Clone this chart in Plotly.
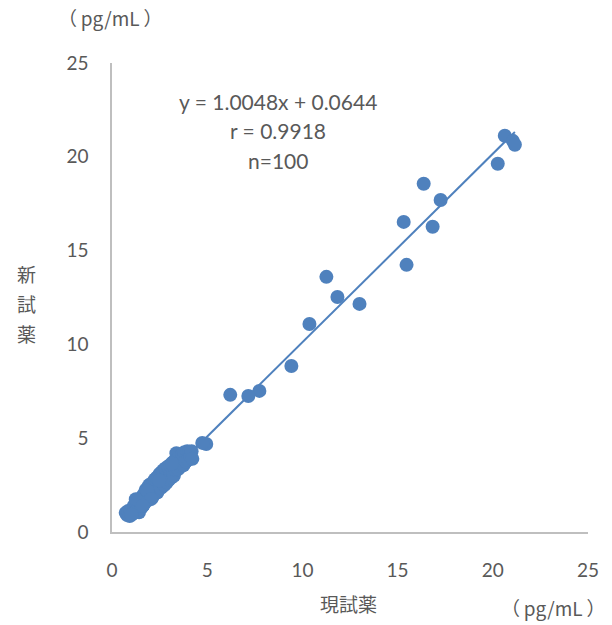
import plotly.graph_objects as go

# Upper (sparser) points: current reagent (x) vs new reagent (y), pg/mL
upper_x = [20.63, 21.05, 21.16, 20.26, 17.26, 16.37, 16.84, 15.32, 15.47, 11.26,
           11.84, 13.00, 10.37, 9.42, 7.74, 7.16, 6.21, 4.95, 4.74]
upper_y = [21.12, 20.85, 20.64, 19.63, 17.70, 18.56, 16.27, 16.53, 14.24, 13.60,
           12.53, 12.16, 11.09, 8.85, 7.52, 7.25, 7.31, 4.69, 4.75]

# Dense low-range cluster
cluster_x = [0.72, 0.80, 0.85, 0.93, 0.98, 1.05, 1.10, 1.15, 1.20, 1.28,
             1.32, 1.38, 1.42, 1.45, 1.50, 1.55, 1.60, 1.65, 1.70, 1.72,
             1.78, 1.82, 1.88, 1.90, 1.95, 2.00, 2.05, 2.08, 2.12, 2.18,
             2.22, 2.25, 2.30, 2.35, 2.38, 2.42, 2.45, 2.50, 2.55, 2.58,
             2.62, 2.65, 2.70, 2.75, 2.78, 2.82, 2.88, 2.92, 2.95, 3.00,
             3.05, 3.08, 3.12, 3.18, 3.22, 3.25, 3.30, 3.35, 3.38, 3.42,
             3.48, 3.52, 3.58, 3.62, 3.70, 3.75, 3.80, 3.88, 3.95, 4.00,
             4.05, 4.12, 4.18, 4.22, 1.25, 1.85, 2.48, 3.15, 2.05, 1.02, 1.62]
cluster_y = [1.02, 0.90, 1.12, 0.85, 1.08, 1.22, 0.98, 1.40, 1.10, 1.55,
             1.18, 1.70, 1.05, 1.62, 1.80, 1.30, 1.90, 1.45, 2.05, 1.55,
             2.25, 1.68, 2.35, 1.80, 2.50, 1.90, 2.55, 2.05, 1.85, 2.65,
             2.15, 2.80, 2.30, 2.90, 2.10, 2.95, 2.40, 3.10, 2.55, 2.35,
             3.20, 2.65, 3.30, 2.50, 2.85, 3.40, 2.65, 3.00, 3.50, 2.80,
             3.55, 3.05, 2.90, 3.70, 3.15, 3.00, 3.80, 3.30, 4.20, 3.85,
             3.35, 4.00, 3.50, 3.70, 4.15, 3.55, 4.25, 3.75, 4.30, 3.85,
             4.25, 4.05, 4.30, 3.90, 1.75, 2.20, 2.75, 3.65, 1.75, 0.92, 1.40]

# Regression stats
slope = 1.0048
intercept = 0.0644
r_value = 0.9918
n_count = 100

x_ticks = [0, 5, 10, 15, 20, 25]
y_ticks = [0, 5, 10, 15, 20, 25]

all_x = cluster_x + upper_x
all_y = cluster_y + upper_y

BLUE = "#4F81BD"
GRAY = "#595959"
FONT = "Lato, 'Noto Sans CJK JP', sans-serif"
CJK = "'Noto Sans CJK JP', sans-serif"

x_lo, x_hi = min(all_x), max(all_x)
line_x = [x_lo, x_hi]
line_y = [slope * v + intercept for v in line_x]

L, R, T, B = 112, 24, 63, 93
PW = 612 - L - R
PH = 625 - T - B


def px(xp):
    return (xp - L) / PW


def py(yp):
    return (625 - B - yp) / PH


fig = go.Figure()
fig.add_trace(go.Scatter(x=line_x, y=line_y, mode="lines",
                         line=dict(color=BLUE, width=2), hoverinfo="skip",
                         showlegend=False))
fig.add_trace(go.Scatter(x=all_x, y=all_y, mode="markers",
                         marker=dict(color=BLUE, size=14, line=dict(width=0)),
                         showlegend=False))

fig.update_layout(
    width=612, height=625,
    margin=dict(l=L, r=R, t=T, b=B, autoexpand=False),
    paper_bgcolor="white", plot_bgcolor="white",
    font=dict(family=FONT, size=19, color=GRAY),
    xaxis=dict(range=[0, 25], tickvals=x_ticks, showgrid=False, zeroline=False,
               showline=True, linecolor="#BFBFBF", linewidth=1.5, ticks="",
               tickfont=dict(size=19, color=GRAY), fixedrange=True,
               automargin=False, ticklabelstandoff=20),
    yaxis=dict(range=[0, 25], tickvals=y_ticks, showgrid=False, zeroline=False,
               showline=True, linecolor="#BFBFBF", linewidth=1.5, ticks="",
               tickfont=dict(size=19, color=GRAY), fixedrange=True,
               automargin=False, ticklabelstandoff=18),
)

eq_lines = [f"y = {slope:.4f}x + {intercept:.4f}", f"r = {r_value:.4f}", f"n={n_count}"]
for i, t in enumerate(eq_lines):
    fig.add_annotation(text=t, xref="paper", yref="paper",
                       x=px(278), y=py(101 + 29.5 * i),
                       xanchor="center", yanchor="middle", showarrow=False,
                       font=dict(size=21, color=GRAY, family=FONT))

for i, ch in enumerate("新試薬"):
    fig.add_annotation(text=ch, xref="paper", yref="paper",
                       x=px(26), y=py(273 + 30 * i),
                       xanchor="center", yanchor="middle", showarrow=False,
                       font=dict(size=19, color=GRAY, family=CJK))
fig.add_annotation(text="現試薬", xref="paper", yref="paper",
                   x=px(348), y=py(603),
                   xanchor="center", yanchor="middle", showarrow=False,
                   font=dict(size=19, color=GRAY, family=CJK))
fig.add_annotation(text="（\u2009pg/mL\u2009）", xref="paper", yref="paper",
                   x=px(110), y=py(18),
                   xanchor="center", yanchor="middle", showarrow=False,
                   font=dict(size=19, color=GRAY, family=CJK))
fig.add_annotation(text="（\u2009pg/mL\u2009）", xref="paper", yref="paper",
                   x=px(553), y=py(607),
                   xanchor="center", yanchor="middle", showarrow=False,
                   font=dict(size=19, color=GRAY, family=CJK))

fig.write_html("out.html", config={"displayModeBar": False},
               post_script="document.body.style.margin='0px';")
